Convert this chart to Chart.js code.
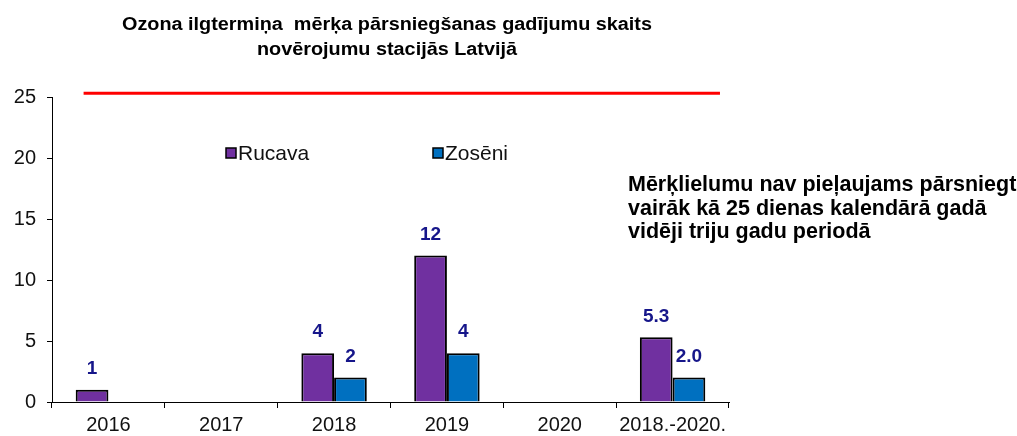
<!DOCTYPE html>
<html>
<head>
<meta charset="utf-8">
<script src="https://cdn.jsdelivr.net/npm/chart.js@4"></script>
<style>
  html, body { margin: 0; padding: 0; background: #fff; }
  #wrap { width: 1017px; height: 436px; position: relative; }
</style>
</head>
<body>
<div id="wrap"><canvas id="ozons" width="1017" height="436"></canvas></div>
<script>
// data
var categories = ['2016', '2017', '2018', '2019', '2020', '2018.-2020.'];
var rucava = [1, 0, 4, 12, 0, 5.3];
var zoseni = [0, 0, 2, 4, 0, 2.0];
var rucavaLabels = ['1', '', '4', '12', '', '5.3'];
var zoseniLabels = ['', '', '2', '4', '', '2.0'];
// red limit line, x in category units (0 = first category)
var limitX = [-0.22, 5.42];
var limitY = [25.3, 25.3];
var yTicks = [0, 5, 10, 15, 20, 25];

var titleLines = ['Ozona ilgtermiņa  mērķa pārsniegšanas gadījumu skaits', 'novērojumu stacijās Latvijā'];
var noteLines = ['Mērķlielumu nav pieļaujams pārsniegt', 'vairāk kā 25 dienas kalendārā gadā', 'vidēji triju gadu periodā'];

var FONT = '"Liberation Sans", Arial, sans-serif';

// bars sit on a linear x axis (one unit per category) so the limit line can share it
function toPoints(vals) {
  return vals.map(function(v, i) { return {x: i, y: v}; });
}

var extras = {
  id: 'extras',
  afterDatasetsDraw: function(chart) {
    var ctx = chart.ctx;
    ctx.save();

    // value labels above bars
    ctx.font = 'bold 19px ' + FONT;
    ctx.fillStyle = '#16168a';
    ctx.textAlign = 'center';
    ctx.textBaseline = 'middle';
    [0, 1].forEach(function(di) {
      var lbls = chart.data.datasets[di].valueLabels;
      chart.getDatasetMeta(di).data.forEach(function(bar, i) {
        if (lbls[i]) ctx.fillText(lbls[i], bar.x, bar.y - 21);
      });
    });

    // title, squeezed like the narrow font of the original
    ctx.font = 'bold 18px ' + FONT;
    ctx.fillStyle = '#000';
    ctx.textBaseline = 'alphabetic';
    var sx = 530 / ctx.measureText(titleLines[0]).width;
    titleLines.forEach(function(t, i) {
      ctx.save();
      ctx.translate(387, 30 + i * 25);
      ctx.scale(sx, 1);
      ctx.fillText(t, 0, 0);
      ctx.restore();
    });

    // note on the right
    ctx.font = 'bold 21.5px ' + FONT;
    ctx.textAlign = 'left';
    noteLines.forEach(function(t, i) {
      ctx.fillText(t, 628, 191 + i * 23.5);
    });

    // legend inside the plot
    var legX = [226, 433];
    ctx.font = '21px ' + FONT;
    ctx.textBaseline = 'middle';
    [0, 1].forEach(function(di) {
      var ds = chart.data.datasets[di];
      ctx.fillStyle = ds.backgroundColor;
      ctx.fillRect(legX[di], 148, 10, 10);
      ctx.strokeStyle = '#000';
      ctx.lineWidth = 1.5;
      ctx.strokeRect(legX[di], 148, 10, 10);
      ctx.fillStyle = '#111';
      ctx.fillText(ds.label, legX[di] + 12, 154);
    });

    ctx.restore();
  }
};

new Chart(document.getElementById('ozons'), {
  type: 'bar',
  data: {
    datasets: [
      {
        label: 'Rucava',
        data: toPoints(rucava),
        valueLabels: rucavaLabels,
        backgroundColor: '#7030a0',
        borderColor: '#000',
        borderWidth: 2,
        categoryPercentage: 0.58,
        barPercentage: 1.0
      },
      {
        label: 'Zosēni',
        data: toPoints(zoseni),
        valueLabels: zoseniLabels,
        backgroundColor: '#0070c0',
        borderColor: '#000',
        borderWidth: 2,
        categoryPercentage: 0.58,
        barPercentage: 1.0
      },
      {
        type: 'line',
        label: 'limit',
        data: limitX.map(function(x, i) { return {x: x, y: limitY[i]}; }),
        borderColor: '#ff0000',
        borderWidth: 3,
        pointRadius: 0,
        fill: false,
        clip: false
      }
    ]
  },
  options: {
    responsive: false,
    animation: false,
    layout: { padding: { top: 97, right: 288, bottom: 0, left: 0 } },
    scales: {
      x: {
        type: 'linear',
        min: -0.5,
        max: categories.length - 0.5,
        offset: false,
        afterBuildTicks: function(s) { s.ticks = categories.map(function(c, i) { return {value: i}; }); },
        grid: { drawOnChartArea: false, offset: true, tickLength: 6, color: '#000', lineWidth: 1 },
        border: { color: '#000', width: 1 },
        ticks: {
          color: '#111',
          font: { family: FONT, size: 20 },
          padding: 5,
          maxRotation: 0,
          autoSkip: false,
          callback: function(v, i) { return categories[i]; }
        },
        afterFit: function(s) { s.height = 34; }
      },
      y: {
        min: 0,
        max: 25,
        afterBuildTicks: function(s) { s.ticks = yTicks.map(function(v) { return {value: v}; }); },
        grid: { drawOnChartArea: false, tickLength: 5, color: '#000', lineWidth: 1 },
        border: { color: '#000', width: 1 },
        ticks: { color: '#111', font: { family: FONT, size: 20 }, padding: 11 },
        afterFit: function(s) { s.width = 52; }
      }
    },
    plugins: {
      legend: { display: false },
      title: { display: false },
      tooltip: { enabled: false }
    }
  },
  plugins: [extras]
});
</script>
</body>
</html>
